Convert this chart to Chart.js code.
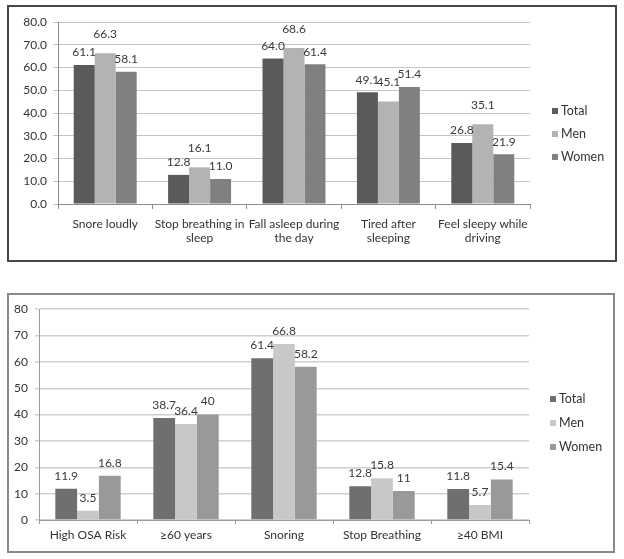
<!DOCTYPE html>
<html>
<head>
<meta charset="utf-8">
<script src="https://cdn.jsdelivr.net/npm/chart.js@4/dist/chart.umd.min.js"></script>
<style>
  html, body { margin: 0; padding: 0; background: #fff; }
  body { width: 624px; height: 559px; position: relative; overflow: hidden; }
  .box { position: absolute; box-sizing: border-box; }
  #box1 { left: 7px; top: 5px; width: 610px; height: 257px; border: 2px solid #474747; }
  #box2 { left: 7px; top: 293px; width: 608px; height: 260px; border: 2px solid #8a8a8a; }
  canvas { position: absolute; left: 0; top: 0; }
</style>
</head>
<body>
<div class="box" id="box1"><canvas id="c1" width="606" height="253"></canvas></div>
<div class="box" id="box2"><canvas id="c2" width="604" height="256"></canvas></div>
<script>
// ---- Data: top chart ----
const topCategories = [
  "Snore loudly",
  ["Stop breathing in", "sleep"],
  ["Fall asleep during", "the day"],
  ["Tired after", "sleeping"],
  ["Feel sleepy while", "driving"]
];
const topTotal = [61.1, 12.8, 64.0, 49.1, 26.8];
const topMen   = [66.3, 16.1, 68.6, 45.1, 35.1];
const topWomen = [58.1, 11.0, 61.4, 51.4, 21.9];

// ---- Data: bottom chart ----
const bottomCategories = ["High OSA Risk", "\u226560 years", "Snoring", "Stop Breathing", "\u226540 BMI"];
const bottomTotal = [11.9, 38.7, 61.4, 12.8, 11.8];
const bottomMen   = [3.5, 36.4, 66.8, 15.8, 5.7];
const bottomWomen = [16.8, 40, 58.2, 11, 15.4];

const seriesNames = ["Total", "Men", "Women"];

const FONT = "Lato, 'DejaVu Sans', sans-serif";

const valueLabels = {
  id: 'valueLabels',
  afterDatasetsDraw(chart, args, opts) {
    const ctx = chart.ctx;
    ctx.save();
    ctx.font = opts.font;
    ctx.fillStyle = opts.color;
    ctx.textAlign = 'center';
    ctx.textBaseline = 'middle';
    chart.data.datasets.forEach((ds, di) => {
      const meta = chart.getDatasetMeta(di);
      meta.data.forEach((bar, i) => {
        const v = ds.data[i];
        const txt = opts.format(v);
        ctx.fillText(txt, bar.x, bar.y - opts.offsets[di]);
      });
    });
    ctx.restore();
  }
};

const sideLegend = {
  id: 'sideLegend',
  afterDraw(chart, args, opts) {
    const ctx = chart.ctx;
    ctx.save();
    ctx.font = opts.font;
    ctx.textBaseline = 'middle';
    ctx.textAlign = 'left';
    const n = chart.data.datasets.length;
    const cy = chart.height / 2;
    chart.data.datasets.forEach((ds, di) => {
      const y = cy + (di - (n - 1) / 2) * opts.spacing;
      ctx.fillStyle = ds.backgroundColor;
      ctx.fillRect(opts.x, Math.round(y - opts.box / 2), opts.box, opts.box);
      ctx.fillStyle = opts.color;
      ctx.fillText(ds.label, opts.x + opts.box + opts.gap, y);
    });
    ctx.restore();
  }
};

function makeChart(id, cfg) {
  return new Chart(document.getElementById(id), {
    type: 'bar',
    data: {
      labels: cfg.labels,
      datasets: [
        { label: seriesNames[0], data: cfg.total, backgroundColor: cfg.colors[0] },
        { label: seriesNames[1], data: cfg.men, backgroundColor: cfg.colors[1] },
        { label: seriesNames[2], data: cfg.women, backgroundColor: cfg.colors[2] }
      ].map(d => Object.assign(d, { categoryPercentage: 0.667, barPercentage: 1.0, borderWidth: 0 }))
    },
    options: {
      responsive: false,
      animation: false,
      events: [],
      layout: { padding: cfg.padding },
      plugins: {
        legend: { display: false },
        tooltip: { enabled: false },
        valueLabels: { font: "12px " + FONT, color: '#3a3a3a', offsets: cfg.offsets, format: cfg.format },
        sideLegend: { font: "12.5px " + FONT, color: '#333', x: cfg.legendX, spacing: cfg.legendSpacing, box: 6, gap: 3 }
      },
      scales: {
        x: {
          grid: { display: true, drawOnChartArea: false, drawTicks: true, tickLength: cfg.xTick, color: cfg.axisColor, offset: true },
          border: { display: true, color: cfg.axisColor, width: 1 },
          ticks: { autoSkip: false, maxRotation: 0, minRotation: 0, padding: cfg.xPad, color: '#333',
                   font: { family: FONT, size: 12, lineHeight: 1.2 } },
          afterFit(scale) { scale.height = cfg.xHeight; }
        },
        y: {
          min: 0, max: 80,
          grid: { color: cfg.gridColor, lineWidth: cfg.gridWidth, tickLength: cfg.yTick, drawTicks: true },
          border: { display: true, color: cfg.axisColor, width: 1 },
          ticks: { stepSize: 10, padding: cfg.yPad, color: '#333', font: { family: FONT, size: 12 },
                   callback: cfg.tickFormat },
          afterFit(scale) { scale.width = cfg.yWidth; }
        }
      }
    },
    plugins: [valueLabels, sideLegend]
  });
}

makeChart('c1', {
  labels: topCategories, total: topTotal, men: topMen, women: topWomen,
  colors: ['#5a5a5a', '#b3b3b3', '#808080'],
  padding: { top: 15, right: 85, left: 0, bottom: 0 },
  yWidth: 49, xHeight: 56, xTick: 5, yTick: 5, xPad: 8, yPad: 6,
  axisColor: '#8c8c8c', gridColor: '#c4c4c4', gridWidth: 1,
  offsets: [12.5, 19, 12.5],
  format: v => v.toFixed(1),
  tickFormat: v => Number(v).toFixed(1),
  legendX: 543, legendSpacing: 23
});

makeChart('c2', {
  labels: bottomCategories, total: bottomTotal, men: bottomMen, women: bottomWomen,
  colors: ['#6f6f6f', '#c8c8c8', '#999999'],
  padding: { top: 13, right: 84, left: 0, bottom: 0 },
  yWidth: 30, xHeight: 31, xTick: 4, yTick: 4, xPad: 4, yPad: 7,
  axisColor: '#9a9a9a', gridColor: '#d0d0d0', gridWidth: 1.5,
  offsets: [13, 13, 13],
  format: v => String(v),
  tickFormat: v => String(v),
  legendX: 541, legendSpacing: 24
});
</script>
</body>
</html>
